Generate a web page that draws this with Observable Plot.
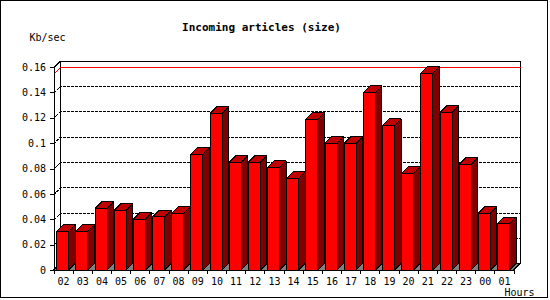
<!DOCTYPE html>
<html>
<head>
<meta charset="utf-8">
<script src="https://cdn.jsdelivr.net/npm/d3@7"></script>
<script src="https://cdn.jsdelivr.net/npm/@observablehq/plot@0.6"></script>
<style>
  html, body { margin: 0; padding: 0; background: #fff; }
  #wrap { position: relative; width: 550px; height: 300px; overflow: hidden; }
  #border { position: absolute; left: 0; top: 0; width: 548px; height: 298px; box-sizing: border-box; border: 1px solid #000; pointer-events: none; }
  svg { shape-rendering: crispEdges; }
  svg text { shape-rendering: auto; }
</style>
</head>
<body>
<div id="wrap"><div id="border"></div></div>
<script>
const title = "Incoming articles (size)";
const yLabel = "Kb/sec";
const xLabel = "Hours";
const hours = ["02","03","04","05","06","07","08","09","10","11","12","13","14","15","16","17","18","19","20","21","22","23","00","01"];
const values = [0.0305, 0.0305, 0.0486, 0.047, 0.040, 0.0418, 0.0449, 0.0912, 0.1235, 0.0849, 0.0849, 0.081, 0.0723, 0.1188, 0.0999, 0.0999, 0.140, 0.114, 0.0762, 0.155, 0.1243, 0.0833, 0.0447, 0.0365];
const yTicks = [0, 0.02, 0.04, 0.06, 0.08, 0.1, 0.12, 0.14, 0.16];

// layout (pixels)
const X0 = 53.5, X1 = 513.5, Y0 = 270, Y1 = 67;
const yMax = 0.16, n = hours.length;
const u = n / (X1 - X0);          // x data units per pixel
const w = yMax / (Y0 - Y1);       // y data units per pixel
const D = 6.5 * u, E = 6.5 * w;   // 3D depth offset
const fl = 3.2 * u, fr = 15.2 * u; // bar front inset inside band

const bars = hours.map((h, i) => ({h, i, v: values[i]}));
const maxV = d3.max(values);

const sideFaces = bars.flatMap(b => [
  {id: b.i, x: b.i + fr, y1: 0, y2: b.v},
  {id: b.i, x: b.i + fr + D, y1: E, y2: b.v + E}
]);
const topFaces = bars.flatMap(b => [
  {id: b.i, y: b.v, x1: b.i + fl, x2: b.i + fr},
  {id: b.i, y: b.v + E, x1: b.i + fl + D, x2: b.i + fr + D}
]);
const gridVals = yTicks.filter(t => t > 0 && t < yMax);
const grid = gridVals.flatMap(v => [
  {v, x: 0, y: v}, {v, x: D, y: v + E}, {v, x: n + D, y: v + E}
]);
const redLine = [{x: 0, y: maxV}, {x: D, y: maxV + E}, {x: n + D, y: maxV + E}];
const floorFace = [{y: 0, x1: 0, x2: n}, {y: E, x1: D, x2: n + D}];

const font = "DejaVu Sans Mono";

const chart = Plot.plot({
  width: 550, height: 300, margin: 0,
  style: {background: "transparent", fontFamily: font},
  x: {type: "linear", domain: [0, n], range: [X0, X1], axis: null},
  y: {type: "linear", domain: [0, yMax], range: [Y0, Y1], axis: null},
  marks: [
    // floor
    Plot.areaX(floorFace, {y: "y", x1: "x1", x2: "x2", fill: "#808080", stroke: "black", strokeWidth: 1}),
    // back wall outline
    Plot.ruleX([D, n + D], {x: d => d, y1: E, y2: yMax + E, stroke: "black"}),
    Plot.ruleY([yMax + E], {y: d => d, x1: D, x2: n + D, stroke: "black"}),
    Plot.link([{}], {x1: 0, y1: yMax, x2: D, y2: yMax + E, stroke: "black"}),
    // dotted grid on back wall
    Plot.line(grid, {x: "x", y: "y", z: "v", stroke: "black", strokeDasharray: "2,2", strokeWidth: 1}),
    // max line
    Plot.line(redLine, {x: "x", y: "y", stroke: "#ff0000", strokeWidth: 1}),
    // bars
    Plot.areaY(sideFaces, {x: "x", y1: "y1", y2: "y2", z: "id", fill: "#800000", stroke: "black", strokeWidth: 1}),
    Plot.areaX(topFaces, {y: "y", x1: "x1", x2: "x2", z: "id", fill: "#c00000", stroke: "black", strokeWidth: 1}),
    Plot.rect(bars, {x1: b => b.i + fl, x2: b => b.i + fr, y1: 0, y2: "v", fill: "#ff0000", stroke: "black", strokeWidth: 1}),
    // front y axis
    Plot.ruleX([0], {x: d => d, y1: 0, y2: yMax, stroke: "black"}),
    Plot.ruleY(yTicks, {y: d => d, x1: -4 * u, x2: 0, stroke: "black"}),
    Plot.text(yTicks, {x: 0, y: d => d, text: d => String(d), dx: -8, textAnchor: "end", lineAnchor: "middle", fontSize: 10, fill: "black"}),
    // x axis ticks and labels
    Plot.ruleX(d3.range(n + 1), {x: d => d, y1: 0, y2: -4 * w, stroke: "black"}),
    Plot.text(bars, {x: b => b.i + 0.5, y: 0, text: "h", dy: 10.8, lineAnchor: "middle", fontSize: 10, fill: "black"}),
    // titles
    Plot.text([title], {frameAnchor: "top-left", dx: 261, dy: 26.8, textAnchor: "middle", lineAnchor: "middle", fontSize: 11, fontWeight: "bold", fill: "black"}),
    Plot.text([yLabel], {frameAnchor: "top-left", dx: 29, dy: 37.2, textAnchor: "start", lineAnchor: "middle", fontSize: 10, fill: "black"}),
    Plot.text([xLabel], {frameAnchor: "top-left", dx: 504, dy: 292, textAnchor: "start", lineAnchor: "middle", fontSize: 10, fill: "black"})
  ]
});
document.getElementById("wrap").insertBefore(chart, document.getElementById("border"));
</script>
</body>
</html>
